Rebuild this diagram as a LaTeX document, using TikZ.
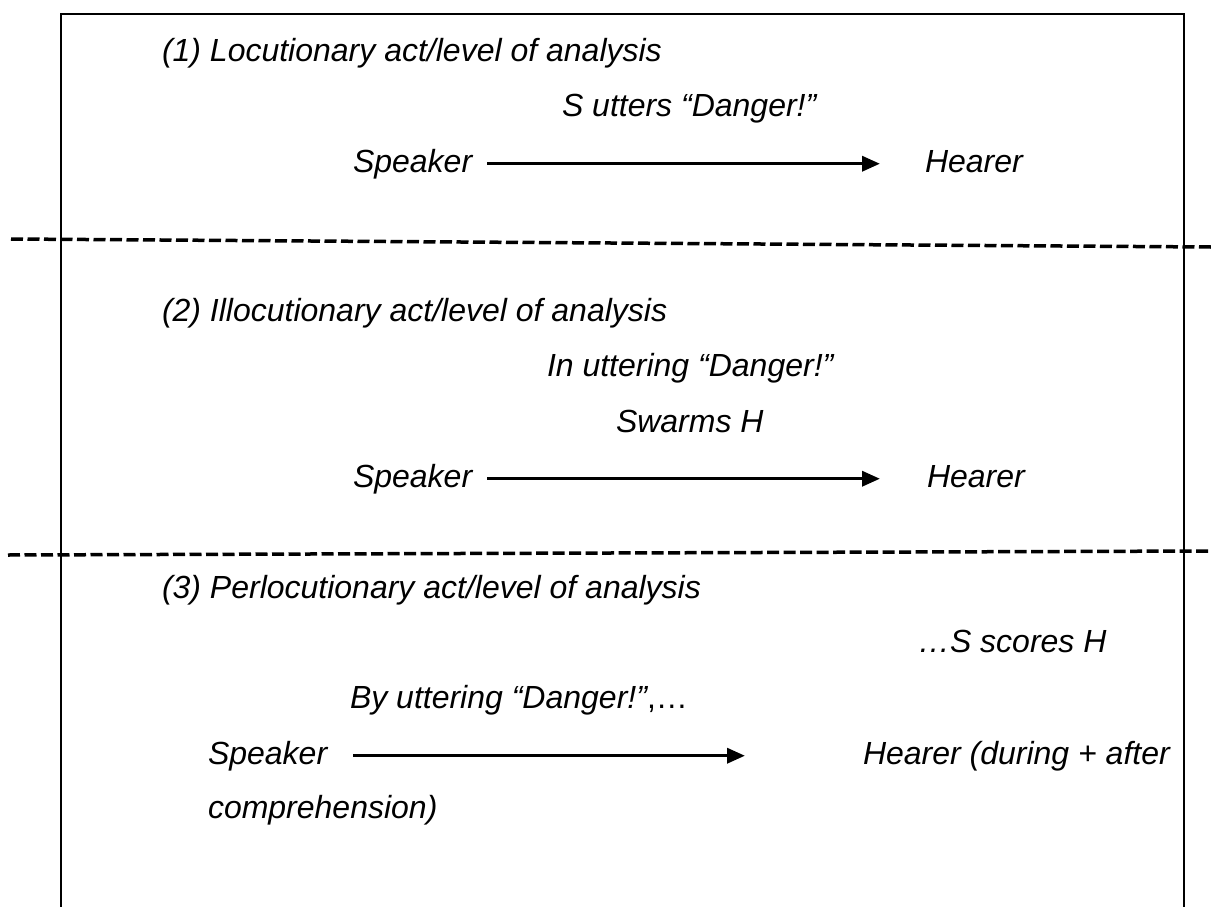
\documentclass[tikz,border=0pt]{standalone}
\usepackage{fontspec}
\setmainfont{Liberation Sans}
\usetikzlibrary{arrows.meta}
\begin{document}
\begin{tikzpicture}[x=1bp,y=-1bp,
  txt/.style={inner sep=0pt, outer sep=0pt, anchor=base west, font=\fontsize{32bp}{38bp}\selectfont\itshape},
  arr/.style={line width=3.5bp, -{Triangle[length=18bp,width=15bp]}},
  sep/.style={line width=3.5bp, dash pattern=on 12bp off 4.5bp},
  frame/.style={line width=2.5bp}]
\useasboundingbox (0,0) rectangle (1211,907);
\fill[white] (0,0) rectangle (1211,907);
% frame (open at the bottom)
\draw[frame] (61,907) -- (61,14) -- (1184,14) -- (1184,907);
% separators
\draw[sep] (11,239) -- (1211,247);
\draw[sep] (8,555) -- (1211,551);
% level 1
\node[txt] (h1) at (162,61) {(1) Locutionary act/level of analysis};
\node[txt] (l1) at (562,116) {S utters “Danger!”};
\node[txt] (sp1) at (353,172) {Speaker};
\node[txt] (he1) at (925,172) {Hearer};
\draw[arr] ([xshift=15bp]sp1.east) -- ([xshift=-45bp]sp1.east -| he1.west);
% level 2
\node[txt] (h2) at (162,321) {(2) Illocutionary act/level of analysis};
\node[txt] (l2a) at (547,376) {In uttering “Danger!”};
\node[txt] (l2b) at (616,432) {Swarms H};
\node[txt] (sp2) at (353,487) {Speaker};
\node[txt] (he2) at (927,487) {Hearer};
\draw[arr] ([xshift=15bp]sp2.east) -- ([xshift=-47bp]sp2.east -| he2.west);
% level 3
\node[txt] (h3) at (162,598) {(3) Perlocutionary act/level of analysis};
\node[txt] (l3a) at (918,652) {…S scores H};
\node[txt] (l3b) at (350,708) {By uttering “Danger!”{\upshape,…}};
\node[txt] (sp3) at (208,764) {Speaker};
\node[txt] (he3) at (863,764) {Hearer (during + after};
\node[txt] (cp3) at (208,818) {comprehension)};
\draw[arr] ([xshift=26bp]sp3.east) -- ([xshift=-118bp]sp3.east -| he3.west);
\end{tikzpicture}
\end{document}
